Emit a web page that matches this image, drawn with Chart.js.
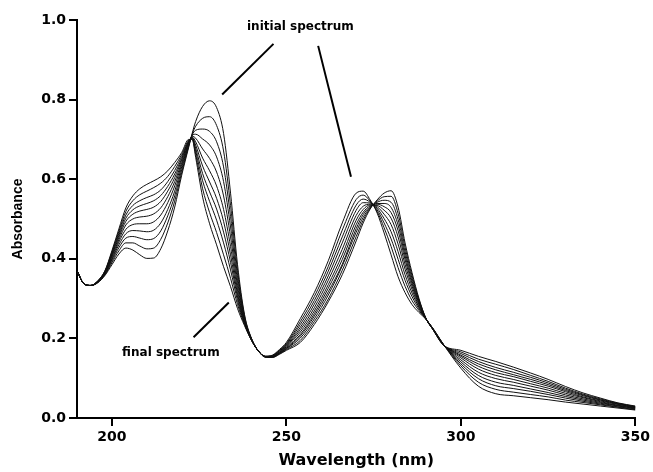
<!DOCTYPE html>
<html><head><meta charset="utf-8">
<script src="https://cdn.jsdelivr.net/npm/chart.js@4.4.1/dist/chart.umd.min.js"></script>
<style>html,body{margin:0;padding:0;background:#fff;}#wrap{width:653px;height:472px;}</style>
</head><body><div id="wrap"><canvas id="c" width="653" height="472"></canvas></div>
<script>
// wavelength grid (nm)
const wavelengths = [190,192,194,196,198,200,202,204,206,208,210,212,214,216,218,220,222,223,224,226,228,230,232,234,236,238,240,242,244,246,248,250,254,258,262,266,270,272,274,276,278,280,282,284,286,288,290,292,295,300,305,310,315,320,325,330,335,340,345,350];

// absorbance spectra, initial (s0) to final (s10)
const s0 = [.37,.337,.333,.34,.358,.385,.412,.427,.422,.41,.401,.402,.425,.47,.53,.61,.68,.715,.745,.783,.797,.78,.715,.565,.385,.26,.2,.168,.155,.158,.172,.19,.25,.315,.395,.49,.565,.57,.548,.515,.465,.41,.355,.315,.285,.265,.248,.225,.185,.125,.08,.061,.056,.051,.046,.04,.035,.03,.025,.02];
const s1 = [.37,.337,.333,.341,.36,.39,.42,.44,.44,.432,.425,.427,.449,.49,.545,.617,.683,.713,.733,.753,.757,.735,.671,.534,.371,.256,.199,.168,.155,.157,.17,.187,.242,.305,.381,.472,.549,.56,.545,.519,.478,.431,.378,.331,.295,.27,.248,.225,.185,.131,.09,.072,.065,.059,.053,.045,.039,.033,.027,.021];
const s2 = [.37,.337,.333,.341,.361,.394,.428,.452,.456,.452,.448,.451,.47,.508,.558,.624,.685,.711,.723,.726,.72,.694,.631,.506,.358,.253,.199,.168,.155,.157,.169,.185,.235,.295,.369,.455,.535,.55,.542,.523,.49,.45,.399,.346,.305,.274,.249,.224,.185,.136,.099,.081,.074,.067,.059,.05,.042,.035,.028,.023];
const s3 = [.37,.337,.333,.342,.362,.398,.435,.463,.471,.47,.468,.472,.49,.524,.57,.631,.687,.71,.713,.701,.686,.656,.594,.48,.345,.25,.198,.168,.154,.156,.168,.183,.228,.286,.357,.44,.522,.541,.54,.527,.501,.468,.418,.36,.314,.278,.249,.224,.184,.141,.107,.09,.082,.073,.064,.054,.045,.037,.03,.024];
const s4 = [.37,.337,.333,.342,.364,.401,.442,.474,.486,.488,.488,.493,.51,.541,.583,.637,.689,.708,.703,.676,.652,.618,.558,.455,.333,.247,.198,.168,.154,.155,.166,.181,.222,.277,.346,.424,.509,.532,.537,.531,.512,.486,.437,.374,.323,.281,.249,.224,.184,.146,.115,.099,.09,.08,.07,.058,.048,.039,.031,.025];
const s5 = [.37,.337,.333,.343,.365,.405,.448,.485,.5,.505,.507,.513,.528,.556,.594,.642,.691,.706,.694,.653,.621,.583,.524,.431,.322,.244,.197,.168,.154,.155,.165,.179,.216,.269,.335,.41,.497,.524,.535,.534,.522,.502,.455,.386,.331,.285,.249,.223,.184,.151,.123,.107,.097,.086,.075,.062,.051,.041,.032,.026];
const s6 = [.37,.337,.333,.343,.366,.408,.454,.494,.512,.52,.524,.53,.544,.57,.604,.648,.693,.705,.686,.633,.593,.552,.494,.41,.312,.242,.197,.168,.154,.154,.164,.177,.21,.262,.326,.398,.486,.517,.533,.537,.531,.516,.471,.398,.338,.288,.249,.223,.184,.155,.13,.114,.104,.092,.08,.066,.053,.043,.034,.027];
const s7 = [.37,.337,.333,.344,.367,.411,.459,.502,.523,.533,.539,.546,.559,.582,.613,.652,.695,.704,.678,.614,.568,.525,.467,.391,.304,.239,.196,.168,.154,.154,.163,.175,.206,.256,.317,.386,.476,.511,.531,.539,.539,.529,.485,.408,.344,.291,.249,.223,.184,.158,.136,.121,.109,.097,.084,.069,.056,.045,.035,.027];
const s8 = [.37,.337,.333,.344,.368,.414,.464,.51,.534,.546,.554,.561,.573,.594,.622,.657,.696,.703,.671,.596,.544,.497,.44,.372,.295,.237,.196,.168,.153,.153,.162,.174,.201,.249,.309,.382,.467,.504,.529,.542,.547,.542,.499,.418,.351,.294,.25,.223,.183,.162,.142,.127,.115,.102,.088,.072,.058,.046,.036,.028];
const s9 = [.37,.337,.333,.345,.369,.417,.469,.519,.546,.561,.57,.579,.59,.607,.632,.662,.698,.701,.663,.576,.516,.466,.41,.351,.285,.235,.195,.168,.153,.153,.161,.172,.195,.242,.299,.371,.456,.497,.527,.545,.556,.557,.514,.429,.358,.297,.25,.222,.183,.166,.148,.135,.122,.107,.092,.075,.06,.048,.037,.029];
const s10 = [.37,.337,.333,.345,.37,.42,.475,.528,.558,.576,.587,.596,.606,.621,.642,.667,.70,.70,.655,.555,.488,.435,.38,.33,.275,.232,.195,.168,.153,.152,.16,.17,.19,.235,.292,.36,.445,.49,.525,.548,.565,.571,.53,.44,.365,.30,.25,.222,.183,.17,.155,.142,.128,.113,.097,.079,.063,.05,.038,.03];

const xTicks = [200,250,300,350];
const yTicks = [0,0.2,0.4,0.6,0.8,1.0];

// annotation pointers in data units: [x1,y1,x2,y2]
const pointerLines = [[231.6,0.813,246.3,0.94],[259.1,0.935,268.5,0.606],[223.4,0.203,233.5,0.29]];
const pointerTexts = [["initial spectrum",254,0.976],["final spectrum",216.9,0.156]];

const spectra = [s0,s1,s2,s3,s4,s5,s6,s7,s8,s9,s10];

const annot = {
  id:'annot',
  afterDatasetsDraw(chart){
    const {ctx, scales:{x,y}} = chart;
    ctx.save();
    ctx.strokeStyle='#000'; ctx.lineWidth=2; ctx.lineCap='butt';
    pointerLines.forEach(l=>{
      ctx.beginPath();
      ctx.moveTo(x.getPixelForValue(l[0]), y.getPixelForValue(l[1]));
      ctx.lineTo(x.getPixelForValue(l[2]), y.getPixelForValue(l[3]));
      ctx.stroke();
    });
    ctx.fillStyle='#000';
    ctx.font='bold 12px "DejaVu Sans"';
    ctx.textAlign='center'; ctx.textBaseline='alphabetic';
    pointerTexts.forEach(t=>{
      ctx.fillText(t[0], x.getPixelForValue(t[1]), y.getPixelForValue(t[2]));
    });
    ctx.restore();
  }
};

new Chart(document.getElementById('c'), {
  type:'line',
  data:{
    datasets: spectra.map((s,k)=>({
      label:'spectrum '+(k+1),
      data: wavelengths.map((w,i)=>({x:w, y:s[i]})),
      borderColor:'#111', borderWidth:1, pointRadius:0, fill:false,
      cubicInterpolationMode:'monotone'
    }))
  },
  options:{
    responsive:false, animation:false, devicePixelRatio:1,
    layout:{padding:{top:20,right:16,left:0,bottom:0}},
    plugins:{legend:{display:false}, tooltip:{enabled:false}},
    scales:{
      x:{
        type:'linear', min:190, max:350,
        afterBuildTicks(s){ s.ticks = xTicks.map(v=>({value:v})); },
        afterFit(s){ s.height = 54; },
        grid:{display:true, drawOnChartArea:false, drawTicks:true, tickLength:8, color:'#000', lineWidth:2},
        border:{display:true, color:'#000', width:2},
        ticks:{color:'#000', padding:3, maxRotation:0, font:{family:'"DejaVu Sans"', size:14, weight:'bold'}},
        title:{display:true, text:'Wavelength (nm)', color:'#000', padding:{top:0,bottom:2}, font:{family:'"DejaVu Sans"', size:16, weight:'bold'}}
      },
      y:{
        min:0, max:1.0,
        afterBuildTicks(s){ s.ticks = yTicks.map(v=>({value:v})); },
        afterFit(s){ s.width = 77; },
        grid:{display:true, drawOnChartArea:false, drawTicks:true, tickLength:8, color:'#000', lineWidth:2},
        border:{display:true, color:'#000', width:2},
        ticks:{color:'#000', padding:3, callback:v=>v.toFixed(1), font:{family:'"DejaVu Sans"', size:14, weight:'bold'}},
        title:{display:true, text:'Absorbance', color:'#000', padding:{top:10,bottom:0}, font:{family:'"Liberation Sans"', size:14, weight:'bold'}}
      }
    }
  },
  plugins:[annot]
});
</script></body></html>
